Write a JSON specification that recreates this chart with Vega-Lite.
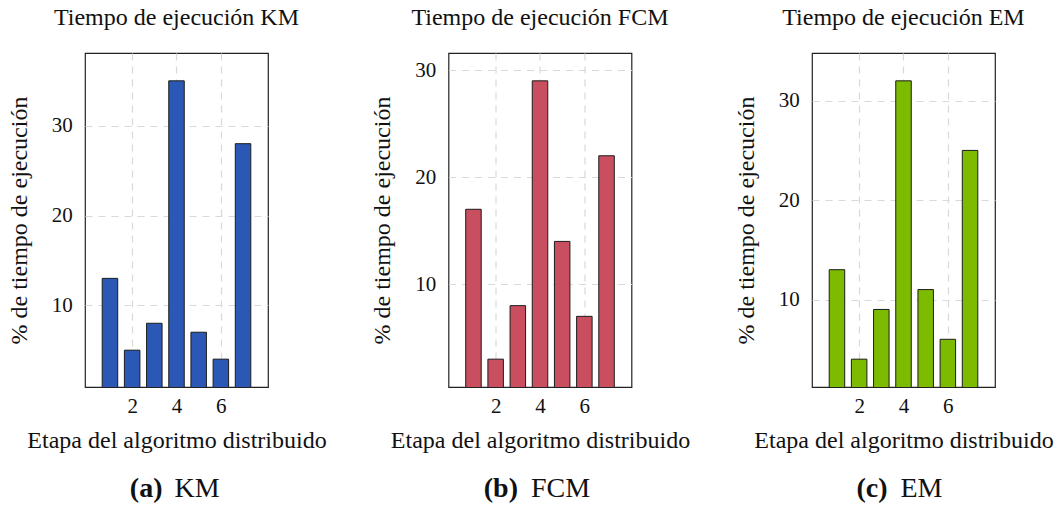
{
  "$schema": "https://vega.github.io/schema/vega-lite/v6.json",
  "background": "white",
  "padding": {"left": 6, "top": 5, "right": 0, "bottom": 0},
  "bounds": "flush",
  "spacing": 180.5,
  "datasets": {
    "km": [
      {"etapa": 1, "pct": 13}, {"etapa": 2, "pct": 5}, {"etapa": 3, "pct": 8},
      {"etapa": 4, "pct": 35}, {"etapa": 5, "pct": 7}, {"etapa": 6, "pct": 4},
      {"etapa": 7, "pct": 28}
    ],
    "fcm": [
      {"etapa": 1, "pct": 17}, {"etapa": 2, "pct": 3}, {"etapa": 3, "pct": 8},
      {"etapa": 4, "pct": 29}, {"etapa": 5, "pct": 14}, {"etapa": 6, "pct": 7},
      {"etapa": 7, "pct": 22}
    ],
    "em": [
      {"etapa": 1, "pct": 13}, {"etapa": 2, "pct": 4}, {"etapa": 3, "pct": 9},
      {"etapa": 4, "pct": 32}, {"etapa": 5, "pct": 11}, {"etapa": 6, "pct": 6},
      {"etapa": 7, "pct": 25}
    ]
  },
  "hconcat": [
    {
      "width": 183,
      "height": 334,
      "data": {"name": "km"},
      "title": {"text": "Tiempo de ejecución KM"},
      "resolve": {"axis": {"x": "independent"}},
      "layer": [
        {
          "mark": {"type": "bar", "size": 15.5, "color": "#2A58B4", "stroke": "#1c1c1c", "strokeWidth": 1, "clip": true},
          "encoding": {
            "x": {"field": "etapa", "type": "quantitative", "scale": {"domain": [0.1, 7.9], "nice": false, "zero": false}, "axis": {"values": [2, 4, 6], "title": "Etapa del algoritmo distribuido"}},
            "y": {"field": "pct", "type": "quantitative", "scale": {"domain": [0.9, 38.1], "nice": false, "zero": false}, "axis": {"values": [10, 20, 30], "title": "% de tiempo de ejecución", "orient": "left"}}
          }
        },
        {
          "mark": {"type": "point", "opacity": 0},
          "encoding": {
            "x": {"field": "etapa", "type": "quantitative", "scale": {"domain": [0.1, 7.9], "nice": false, "zero": false}, "axis": {"orient": "bottom", "title": "(a)", "labels": false, "grid": false, "titleFontWeight": "bold", "titleFontSize": 28, "titleAlign": "right", "titleX": 77, "titleY": 109}}
          }
        },
        {
          "mark": {"type": "point", "opacity": 0},
          "encoding": {
            "x": {"field": "etapa", "type": "quantitative", "scale": {"domain": [0.1, 7.9], "nice": false, "zero": false}, "axis": {"orient": "bottom", "title": "KM", "labels": false, "grid": false, "titleFontSize": 28, "titleAlign": "left", "titleX": 89, "titleY": 109}}
          }
        }
      ]
    },
    {
      "width": 183,
      "height": 334,
      "data": {"name": "fcm"},
      "title": {"text": "Tiempo de ejecución FCM"},
      "resolve": {"axis": {"x": "independent"}},
      "layer": [
        {
          "mark": {"type": "bar", "size": 15.5, "color": "#C94F60", "stroke": "#1c1c1c", "strokeWidth": 1, "clip": true},
          "encoding": {
            "x": {"field": "etapa", "type": "quantitative", "scale": {"domain": [0.1, 7.9], "nice": false, "zero": false}, "axis": {"values": [2, 4, 6], "title": "Etapa del algoritmo distribuido"}},
            "y": {"field": "pct", "type": "quantitative", "scale": {"domain": [0.4, 31.6], "nice": false, "zero": false}, "axis": {"values": [10, 20, 30], "title": "% de tiempo de ejecución", "orient": "left"}}
          }
        },
        {
          "mark": {"type": "point", "opacity": 0},
          "encoding": {
            "x": {"field": "etapa", "type": "quantitative", "scale": {"domain": [0.1, 7.9], "nice": false, "zero": false}, "axis": {"orient": "bottom", "title": "(b)", "labels": false, "grid": false, "titleFontWeight": "bold", "titleFontSize": 28, "titleAlign": "right", "titleX": 69, "titleY": 109}}
          }
        },
        {
          "mark": {"type": "point", "opacity": 0},
          "encoding": {
            "x": {"field": "etapa", "type": "quantitative", "scale": {"domain": [0.1, 7.9], "nice": false, "zero": false}, "axis": {"orient": "bottom", "title": "FCM", "labels": false, "grid": false, "titleFontSize": 28, "titleAlign": "left", "titleX": 82, "titleY": 109}}
          }
        }
      ]
    },
    {
      "width": 183,
      "height": 334,
      "data": {"name": "em"},
      "title": {"text": "Tiempo de ejecución EM"},
      "resolve": {"axis": {"x": "independent"}},
      "layer": [
        {
          "mark": {"type": "bar", "size": 15.5, "color": "#7DBB00", "stroke": "#1c1c1c", "strokeWidth": 1, "clip": true},
          "encoding": {
            "x": {"field": "etapa", "type": "quantitative", "scale": {"domain": [0.1, 7.9], "nice": false, "zero": false}, "axis": {"values": [2, 4, 6], "title": "Etapa del algoritmo distribuido"}},
            "y": {"field": "pct", "type": "quantitative", "scale": {"domain": [1.2, 34.8], "nice": false, "zero": false}, "axis": {"values": [10, 20, 30], "title": "% de tiempo de ejecución", "orient": "left"}}
          }
        },
        {
          "mark": {"type": "point", "opacity": 0},
          "encoding": {
            "x": {"field": "etapa", "type": "quantitative", "scale": {"domain": [0.1, 7.9], "nice": false, "zero": false}, "axis": {"orient": "bottom", "title": "(c)", "labels": false, "grid": false, "titleFontWeight": "bold", "titleFontSize": 28, "titleAlign": "right", "titleX": 75, "titleY": 109}}
          }
        },
        {
          "mark": {"type": "point", "opacity": 0},
          "encoding": {
            "x": {"field": "etapa", "type": "quantitative", "scale": {"domain": [0.1, 7.9], "nice": false, "zero": false}, "axis": {"orient": "bottom", "title": "EM", "labels": false, "grid": false, "titleFontSize": 28, "titleAlign": "left", "titleX": 88, "titleY": 109}}
          }
        }
      ]
    }
  ],
  "config": {
    "font": "'Liberation Serif', 'DejaVu Serif', serif",
    "view": {"stroke": "#222222", "strokeWidth": 1.2},
    "title": {"font": "'Liberation Serif', 'DejaVu Serif', serif", "fontSize": 24, "fontWeight": "normal", "color": "#111111", "anchor": "middle", "frame": "group", "baseline": "alphabetic", "offset": 23},
    "axis": {
      "domain": false,
      "ticks": false,
      "tickSize": 0,
      "labelFont": "'Liberation Serif', 'DejaVu Serif', serif",
      "titleFont": "'Liberation Serif', 'DejaVu Serif', serif",
      "labelFontSize": 21,
      "labelColor": "#111111",
      "labelFlush": false,
      "labelOverlap": false,
      "titleFontSize": 24,
      "titleFontWeight": "normal",
      "titleColor": "#111111",
      "titleBaseline": "alphabetic",
      "grid": true,
      "gridColor": "#d9d9d9",
      "gridWidth": 1.2,
      "gridDash": [7, 6]
    },
    "axisX": {"labelBaseline": "alphabetic", "labelPadding": 25, "titleY": 60},
    "axisY": {"labelPadding": 12.7, "titleX": -59, "titleAngle": 270}
  }
}
